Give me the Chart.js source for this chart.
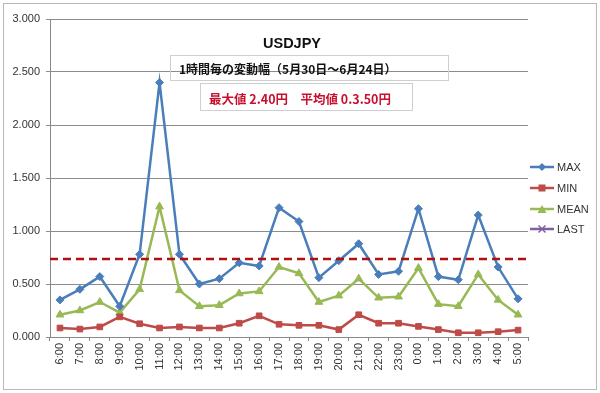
<!DOCTYPE html>
<html>
<head>
<meta charset="utf-8">
<script src="https://cdn.jsdelivr.net/npm/chart.js@4/dist/chart.umd.min.js"></script>
<style>
    html, body { margin: 0; padding: 0; background: #fff; }
    #wrap { position: relative; width: 600px; height: 393px; }
    #frame { position: absolute; left: 3px; top: 3px; width: 592px; height: 385px; border: 1px solid #b8b8b8; }
    #grafico { position: absolute; left: 0; top: 0; }
    .txt { position: absolute; white-space: nowrap; }
    #titulo { left: 0; width: 584px; top: 35px; text-align: center; font: bold 14.5px "Liberation Sans", Arial, sans-serif; color: #111; }
    #caixa1 { left: 170px; top: 55px; width: 277px; height: 24px; border: 1px solid #cfcfcf; }
    #caixa1 span { position: absolute; left: 8px; top: 4px; font: bold 12px "Noto Sans CJK JP", sans-serif; color: #111; }
    #caixa2 { left: 200px; top: 83px; width: 211px; height: 26px; border: 1px solid #cfcfcf; }
    #caixa2 span { position: absolute; left: 8px; top: 5px; font: bold 12.5px "Noto Sans CJK JP", sans-serif; color: #c8102e; }
    #legenda { position: absolute; left: 530px; top: 157px; font: 11px "Liberation Sans", Arial, sans-serif; color: #333; }
    #legenda div { height: 20.7px; display: flex; align-items: center; }
    #legenda svg { margin-right: 3px; }
</style>
</head>
<body>
<div id="wrap">
    <div id="frame"></div>
    <canvas id="grafico" width="600" height="393"></canvas>
    <div class="txt" id="titulo">USDJPY</div>
    <div class="txt" id="caixa1"><span>1時間毎の変動幅（5月30日～6月24日）</span></div>
    <div class="txt" id="caixa2"><span>最大値 2.40円　平均値 0.3.50円</span></div>
    <div id="legenda"></div>
</div>
<script>
// horas (eixo x)
var horas = ['6:00', '7:00', '8:00', '9:00', '10:00', '11:00', '12:00', '13:00', '14:00', '15:00', '16:00', '17:00',
    '18:00', '19:00', '20:00', '21:00', '22:00', '23:00', '0:00', '1:00', '2:00', '3:00', '4:00', '5:00'];

// séries
var valoresMax = [0.35, 0.45, 0.57, 0.29, 0.78, 2.40, 0.78, 0.50, 0.55, 0.70, 0.67, 1.22,
    1.09, 0.56, 0.72, 0.88, 0.59, 0.62, 1.21, 0.57, 0.54, 1.15, 0.66, 0.36];
var valoresMin = [0.085, 0.075, 0.095, 0.19, 0.125, 0.085, 0.095, 0.085, 0.085, 0.13, 0.20, 0.12,
    0.11, 0.11, 0.07, 0.21, 0.13, 0.13, 0.10, 0.07, 0.04, 0.04, 0.05, 0.065];
var valoresMean = [0.21, 0.25, 0.33, 0.23, 0.45, 1.23, 0.44, 0.29, 0.30, 0.41, 0.43, 0.66,
    0.60, 0.33, 0.39, 0.55, 0.37, 0.38, 0.65, 0.31, 0.29, 0.59, 0.35, 0.21];
var valoresLast = [];

// linha tracejada de referência
var linhaReferencia = 0.735;

// ticks do eixo y
var ticksY = [0, 0.5, 1.0, 1.5, 2.0, 2.5, 3.0];

var series = [
    { nome: 'MAX', dados: valoresMax, cor: '#4a7ebb', ponto: 'rectRot', raio: 4 },
    { nome: 'MIN', dados: valoresMin, cor: '#be4b48', ponto: 'rect', raio: 4 },
    { nome: 'MEAN', dados: valoresMean, cor: '#98b954', ponto: 'triangle', raio: 4.5 },
    { nome: 'LAST', dados: valoresLast, cor: '#7d60a0', ponto: 'crossRot', raio: 4 }
];

// Plugin para desenhar a linha tracejada
var pluginLinha = {
    id: 'linhaTracejada',
    afterDatasetsDraw: function (chart) {
        var ctx = chart.ctx;
        var area = chart.chartArea;
        var y = chart.scales.y.getPixelForValue(linhaReferencia);
        ctx.save();
        ctx.strokeStyle = '#b01010';
        ctx.lineWidth = 2.5;
        ctx.setLineDash([8, 5]);
        ctx.beginPath();
        ctx.moveTo(area.left, y);
        ctx.lineTo(area.right, y);
        ctx.stroke();
        ctx.restore();
    }
};

var ctx = document.getElementById('grafico').getContext('2d');
var grafico = new Chart(ctx, {
    type: 'line',
    data: {
        labels: horas,
        datasets: series.map(function (s) {
            return {
                label: s.nome,
                data: s.dados,
                borderColor: s.cor,
                backgroundColor: s.cor,
                borderWidth: 2.5,
                pointStyle: s.ponto,
                pointRadius: s.raio,
                pointBorderWidth: 1,
                tension: 0
            };
        })
    },
    options: {
        responsive: false,
        animation: false,
        layout: { padding: { top: 19, right: 72, bottom: 0, left: 0 } },
        plugins: {
            legend: { display: false },
            tooltip: { enabled: false }
        },
        scales: {
            x: {
                offset: true,
                grid: { display: true, drawOnChartArea: false, drawTicks: true, tickLength: 4, offset: true, color: '#888' },
                border: { color: '#888' },
                ticks: {
                    maxRotation: 90, minRotation: 90, autoSkip: false, padding: 2,
                    color: '#333', font: { size: 11, family: 'Liberation Sans' }
                },
                afterFit: function (scale) { scale.height = 56; }
            },
            y: {
                min: 0, max: 3,
                afterBuildTicks: function (scale) {
                    scale.ticks = ticksY.map(function (v) { return { value: v }; });
                },
                grid: { color: '#8c8c8c', tickLength: 4 },
                border: { color: '#888' },
                ticks: {
                    padding: 6, color: '#333', font: { size: 11, family: 'Liberation Sans' },
                    callback: function (v) { return Number(v).toFixed(3); }
                },
                afterFit: function (scale) { scale.width = 50; }
            }
        }
    },
    plugins: [pluginLinha]
});

// legenda em HTML com linha e marcador
function iconeSerie(s) {
    var m = '';
    if (s.ponto === 'rectRot') m = '<polygon points="12,1 16,5 12,9 8,5" fill="' + s.cor + '"/>';
    if (s.ponto === 'rect') m = '<rect x="8.5" y="1.5" width="7" height="7" fill="' + s.cor + '"/>';
    if (s.ponto === 'triangle') m = '<polygon points="12,1 16.5,9 7.5,9" fill="' + s.cor + '"/>';
    if (s.ponto === 'crossRot') m = '<path d="M8.5,1.5 L15.5,8.5 M15.5,1.5 L8.5,8.5" stroke="' + s.cor + '" stroke-width="1.5"/>';
    return '<svg width="24" height="10"><line x1="0" y1="5" x2="24" y2="5" stroke="' + s.cor + '" stroke-width="2.5"/>' + m + '</svg>';
}
document.getElementById('legenda').innerHTML = series.map(function (s) {
    return '<div>' + iconeSerie(s) + s.nome + '</div>';
}).join('');
</script>
</body>
</html>
